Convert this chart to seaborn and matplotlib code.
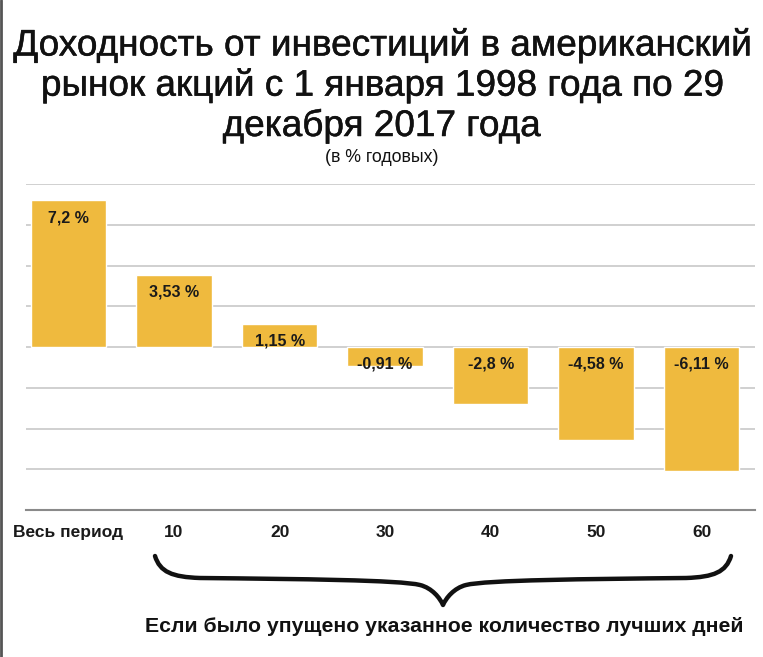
import matplotlib
matplotlib.use("Agg")
import matplotlib.pyplot as plt
import matplotlib.patheffects as pe
import seaborn as sns
import pandas as pd
from matplotlib.path import Path
from matplotlib.patches import PathPatch
from matplotlib.lines import Line2D

categories = ["Весь период", "10", "20", "30", "40", "50", "60"]
values = [7.2, 3.53, 1.15, -0.91, -2.8, -4.58, -6.11]
labels = ["7,2 %", "3,53 %", "1,15 %", "-0,91 %", "-2,8 %", "-4,58 %", "-6,11 %"]

title = "Доходность от инвестиций в американский\nрынок акций с 1 января 1998 года по 29\nдекабря 2017 года"
subtitle = "(в % годовых)"
footnote = "Если было упущено указанное количество лучших дней"

sns.set_theme(style="white")
FONTS = ["Liberation Sans", "DejaVu Sans"]
plt.rcParams["font.family"] = FONTS

W, H = 763, 657
fig = plt.figure(figsize=(W / 100, H / 100), dpi=100)
fig.patch.set_facecolor("white")

def fx(px):
    return px / W

def fy(py):
    return 1 - py / H

ax = fig.add_axes([fx(26), fy(510), fx(755) - fx(26), fy(184) - fy(510)])

df = pd.DataFrame({"cat": categories, "val": values})
sns.barplot(data=df, x="cat", y="val", color="#EFBA3E", saturation=1,
            width=0.715, ax=ax, zorder=3)

ax.set_ylim(-8, 8)
ax.set_xlim(-0.403, 6.505)
ax.set_yticks([])
for y in range(-6, 9, 2):
    ax.axhline(y, color="#c4c4c4", lw=1.1, zorder=1)
for s in ["top", "right", "left"]:
    ax.spines[s].set_visible(False)
ax.spines["bottom"].set_color("#8a8a8a")
ax.spines["bottom"].set_linewidth(1.5)
ax.set_xlabel("")
ax.set_ylabel("")
ax.tick_params(axis="x", length=0, pad=10.8)
for t in ax.get_xticklabels():
    t.set_fontweight("bold")
    t.set_fontsize(12.5)
    t.set_color("#1a1a1a")

for i, (v, lab) in enumerate(zip(values, labels)):
    top = max(v, 0)
    ax.annotate(lab, (i, top), xytext=(0, -7), textcoords="offset points",
                ha="center", va="top", fontsize=11.5, fontweight="bold",
                color="#1a1a1a", zorder=5)

medium = [pe.withStroke(linewidth=0.35, foreground="#111111")]
fig.text(0.5, fy(86), title, ha="center", va="center", fontsize=26.6,
         color="#111111", linespacing=1.17, path_effects=medium)
fig.text(0.5, fy(157), subtitle, ha="center", va="center", fontsize=12.8,
         color="#111111")
fig.text(fx(444), fy(627), footnote, ha="center", va="center", fontsize=15.3,
         fontweight="bold", color="#111111")

# curly brace
pts = [(155, 556), (160, 572), (172, 577), (200, 578),
       (300, 579), (400, 580), (420, 585),
       (432, 588), (440, 598), (443, 605)]
pts_r = [(2 * 443 - x, y) for (x, y) in reversed(pts)]
verts = [(fx(x), fy(y)) for (x, y) in pts] + [(fx(x), fy(y)) for (x, y) in pts_r[1:]]
codes = [Path.MOVETO] + [Path.CURVE4] * (len(verts) - 1)
brace = PathPatch(Path(verts, codes), transform=fig.transFigure, fill=False,
                  lw=3.2, edgecolor="#111111", capstyle="round", joinstyle="round")
fig.patches.append(brace)

# left frame edge
fig.add_artist(Line2D([fx(1), fx(1)], [0, 1], transform=fig.transFigure,
                      color="#555555", lw=2))

fig.savefig("out.png", dpi=100, facecolor="white")
